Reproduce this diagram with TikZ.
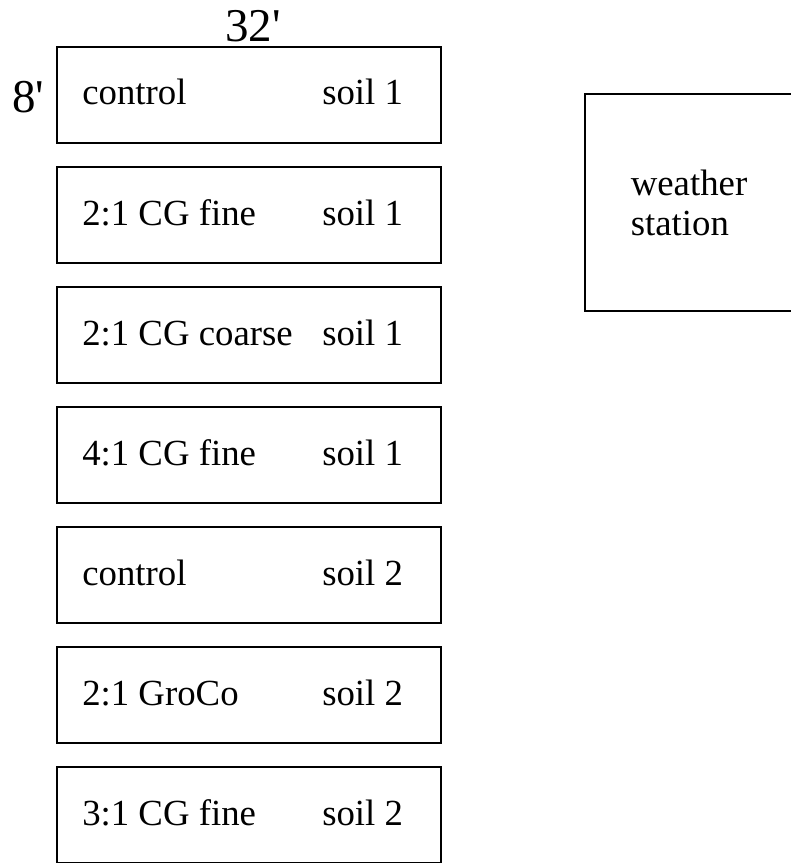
\documentclass[tikz,border=0pt]{standalone}
\usepackage{fontspec}
\setmainfont{Liberation Serif}[Ligatures=TeXOff]
\usetikzlibrary{positioning}

\begin{document}
\begin{tikzpicture}[x=0.75pt,y=-0.75pt,node distance=90pt,on grid,
  plot/.style={draw,line width=1.5pt,minimum width=288pt,minimum height=71.6pt,inner sep=0pt},
  lbl/.style={anchor=base west,inner sep=0pt,font=\fontsize{27.6}{30}\selectfont},
  dim/.style={anchor=base,inner sep=0pt,font=\fontsize{35.25}{40}\selectfont}]

\useasboundingbox (0,0) rectangle (791,863);

\node[plot]   (b1) at (249,95)  {};
\node[plot]   (b2)[below=of b1] {};
\node[plot]   (b3)[below=of b2] {};
\node[plot]   (b4)[below=of b3] {};
\node[plot]   (b5)[below=of b4] {};
\node[plot]   (b6)[below=of b5] {};
\node[plot]   (b7)[below=of b6] {};

% plot labels: treatment and soil
\foreach \n/\trt/\sl in {b1/control/soil 1, b2/2:1 CG fine/soil 1,
    b3/2:1 CG coarse/soil 1, b4/4:1 CG fine/soil 1, b5/control/soil 2,
    b6/2:1 GroCo/soil 2, b7/3:1 CG fine/soil 2}
{
  \node[lbl] (\n-t) at ([shift={(19.5pt,-7.5pt)}]\n.west) {\trt};
  \node[lbl] (\n-s) at ([shift={(199.5pt,-7.5pt)}]\n.west) {\sl};
}

% dimensions
\node[dim] (len) at ([shift={(3pt,3.75pt)}]b1.north) {32'};
\node[dim] (wid) at (28,113) {8'};

\node[draw,line width=1.5pt,minimum width=156pt,minimum height=162.75pt,align=left,
      font=\fontsize{27.6}{30}\selectfont] (ws) at (689,202.5) {weather\\station};

\end{tikzpicture}
\end{document}
